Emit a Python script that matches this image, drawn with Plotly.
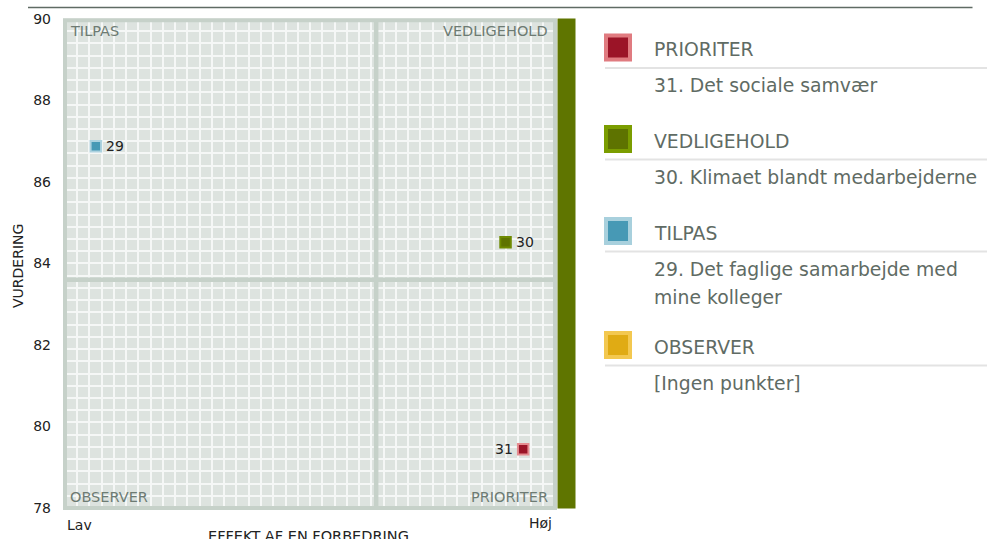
import plotly.graph_objects as go

# ---------------- data ----------------
item_ids = ["29", "30", "31"]
effect = [6.3, 89.9, 93.5]          # x (Lav -> Høj, 0..100)
rating = [86.88, 84.52, 79.44]      # y (VURDERING)
item_quadrant = ["TILPAS", "VEDLIGEHOLD", "PRIORITER"]

x_divider = 63.5
y_divider = 83.6

y_ticks = [78, 80, 82, 84, 86, 88, 90]
x_tick_labels = ["Lav", "Høj"]

quadrants = ["PRIORITER", "VEDLIGEHOLD", "TILPAS", "OBSERVER"]
quadrant_desc = [
    ["31. Det sociale samvær"],
    ["30. Klimaet blandt medarbejderne"],
    ["29. Det faglige samarbejde med", "mine kolleger"],
    ["[Ingen punkter]"],
]
quad_fill = {"PRIORITER": "#9b1427", "VEDLIGEHOLD": "#5e7300",
             "TILPAS": "#4799b5", "OBSERVER": "#e0ab14"}
quad_edge = {"PRIORITER": "#e07b80", "VEDLIGEHOLD": "#7b9d00",
             "TILPAS": "#a8d0dd", "OBSERVER": "#f3c850"}
chart_edge = {"PRIORITER": "#e58c90", "VEDLIGEHOLD": "#6e8a00",
              "TILPAS": "#acd2df", "OBSERVER": "#f3c850"}

# ---------------- layout helpers ----------------
W, H = 987, 539
L, R, T, B = 63, 430, 18, 29
PW, PH = W - L - R, H - T - B


def px(x):
    return (x - L) / PW


def py(y):
    return (H - B - y) / PH


FONT = "DejaVu Sans"
TXT = "#5f6b64"
QTXT = "#6d7b73"
FRAME = "#c6d1c9"

fig = go.Figure()

for q in ["TILPAS", "VEDLIGEHOLD", "PRIORITER"]:
    xs = [e for e, qq in zip(effect, item_quadrant) if qq == q]
    ys = [r for r, qq in zip(rating, item_quadrant) if qq == q]
    fig.add_trace(go.Scatter(
        x=xs, y=ys, mode="markers",
        marker=dict(symbol="square", size=10.5, color=quad_fill[q],
                    line=dict(width=2, color=chart_edge[q])),
        showlegend=False, hoverinfo="skip", cliponaxis=False,
    ))

annotations = []
# point labels
for i, e, r, q in zip(item_ids, effect, rating, item_quadrant):
    left = q == "PRIORITER"
    annotations.append(dict(text=i, xref="x", yref="y", x=e, y=r,
                            xanchor="right" if left else "left", yanchor="middle",
                            xshift=-8 if left else 8, showarrow=False,
                            font=dict(family=FONT, size=14, color="#222222")))

shapes = []
# frame
shapes.append(dict(type="rect", xref="paper", yref="paper",
                   x0=px(65), x1=px(555), y0=py(508), y1=py(20.3),
                   line=dict(color=FRAME, width=4), fillcolor="rgba(0,0,0,0)",
                   layer="above"))
# dividers
shapes.append(dict(type="line", xref="x", yref="paper", x0=x_divider, x1=x_divider,
                   y0=py(508), y1=py(20), line=dict(color=FRAME, width=4.5), layer="above"))
shapes.append(dict(type="line", xref="paper", yref="y", x0=px(65), x1=px(555),
                   y0=y_divider, y1=y_divider, line=dict(color=FRAME, width=4.5), layer="above"))
# green side bar
shapes.append(dict(type="rect", xref="paper", yref="paper",
                   x0=px(557.5), x1=px(575.5), y0=py(508.5), y1=py(18.5),
                   fillcolor="#5f7500", line=dict(width=0), layer="above"))
# top line
shapes.append(dict(type="line", xref="paper", yref="paper",
                   x0=px(28), x1=px(972.5), y0=py(7.5), y1=py(7.5),
                   line=dict(color="#5f6b64", width=1.5)))

# quadrant labels
qfont = dict(family=FONT, size=14.5, color=QTXT)
annotations += [
    dict(text="TILPAS", xref="paper", yref="paper", x=px(68), y=py(31),
         xanchor="left", yanchor="middle", showarrow=False, font=qfont),
    dict(text="VEDLIGEHOLD", xref="paper", yref="paper", x=px(550), y=py(31),
         xanchor="right", yanchor="middle", showarrow=False, font=qfont),
    dict(text="OBSERVER", xref="paper", yref="paper", x=px(68), y=py(496.5),
         xanchor="left", yanchor="middle", showarrow=False, font=qfont),
    dict(text="PRIORITER", xref="paper", yref="paper", x=px(550), y=py(496.5),
         xanchor="right", yanchor="middle", showarrow=False, font=qfont),
]
# axis end labels and titles
afont = dict(family=FONT, size=14, color="#222222")
annotations += [
    dict(text=x_tick_labels[0], xref="paper", yref="paper", x=px(65), y=py(525),
         xanchor="left", yanchor="middle", showarrow=False, font=afont),
    dict(text=x_tick_labels[1], xref="paper", yref="paper", x=px(554), y=py(523),
         xanchor="right", yanchor="middle", showarrow=False, font=afont),
    dict(text="EFFEKT AF EN FORBEDRING", xref="paper", yref="paper", x=px(308), y=py(526),
         xanchor="center", yanchor="top", showarrow=False,
         font=dict(family=FONT, size=14.5, color="#222222")),
    dict(text="VURDERING", xref="paper", yref="paper", x=px(18), y=py(266),
         xanchor="center", yanchor="middle", textangle=-90, showarrow=False, font=afont),
]

# custom legend
legend_y = [47.5, 139, 231, 345]
lfont = dict(family=FONT, size=18.8, color=TXT)
for q, desc, yc in zip(quadrants, quadrant_desc, legend_y):
    shapes.append(dict(type="rect", xref="paper", yref="paper",
                       x0=px(606), x1=px(630), y0=py(yc + 12), y1=py(yc - 12),
                       fillcolor=quad_fill[q], line=dict(color=quad_edge[q], width=4)))
    shapes.append(dict(type="line", xref="paper", yref="paper",
                       x0=px(605), x1=px(987), y0=py(yc + 20.5), y1=py(yc + 20.5),
                       line=dict(color="#e3e3e3", width=2)))
    annotations.append(dict(text=q, xref="paper", yref="paper", x=px(652), y=py(yc + 2),
                            xanchor="left", yanchor="middle", showarrow=False, font=lfont))
    for k, line in enumerate(desc):
        annotations.append(dict(text=line, xref="paper", yref="paper", x=px(652),
                                y=py(yc + 38.5 + 28 * k), xanchor="left", yanchor="middle",
                                showarrow=False, font=lfont))

fig.update_layout(
    width=W, height=H,
    margin=dict(l=L, r=R, t=T, b=B, pad=0),
    paper_bgcolor="white",
    plot_bgcolor="#dde3df",
    shapes=shapes,
    annotations=annotations,
    xaxis=dict(range=[-0.4, 100.4], dtick=2.5, tick0=0, showgrid=True,
               gridcolor="#f5f7f6", gridwidth=2, zeroline=False,
               showticklabels=False, ticks="", fixedrange=True),
    yaxis=dict(range=[77.95, 90.025], tickvals=y_ticks, showticklabels=True,
               showgrid=False, zeroline=False, ticks="", ticklabelstandoff=11,
               tickfont=dict(family=FONT, size=14, color="#222222"), fixedrange=True,
               minor=dict(dtick=0.3, tick0=78, showgrid=True, gridcolor="#f5f7f6",
                          gridwidth=2)),
    showlegend=False,
)

fig.write_html("out.html", config={"displayModeBar": False},
               post_script="document.body.style.margin='0';document.body.style.overflow='hidden';")
